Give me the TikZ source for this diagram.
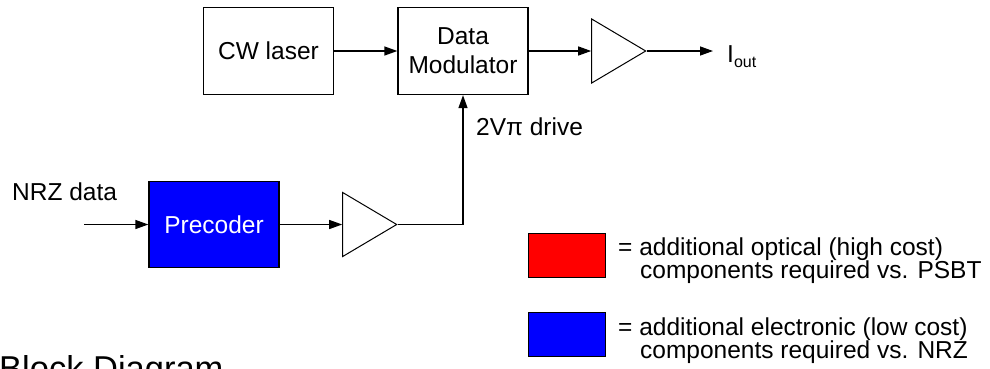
\documentclass[tikz,border=0pt]{standalone}
\usepackage{fontspec}
\setmainfont{Liberation Sans}
\usetikzlibrary{shapes.geometric,arrows.meta}

\begin{document}
\begin{tikzpicture}[x=1pt,y=-1pt,
  block/.style={draw,line width=1.3pt,minimum width=130pt,minimum height=87pt,inner sep=0pt,align=center,font=\fontsize{24.5}{29}\selectfont},
  amp/.style={draw,line width=1pt,isosceles triangle,isosceles triangle stretches,minimum width=64pt,minimum height=54pt,inner sep=0pt,anchor=apex},
  sig/.style={line width=1.3pt,-{Triangle[length=13pt,width=9pt]}},
  lbl/.style={font=\fontsize{24.5}{29}\selectfont,inner sep=0pt,anchor=base west},
  key/.style={draw,line width=1pt,minimum width=77pt,minimum height=44pt,inner sep=0pt}]

\clip (0,0) rectangle (990,368);

% optical path
\node[block] (laser) at (268.5,51) {CW laser};
\node[block] (mod) at (463,51) {Data\\Modulator};
\node[amp] (amp1) at (647,51) {};
\coordinate (out) at (713,51);

\draw[sig] (laser.east) -- (mod.west);
\draw[sig] (mod.east) -- (amp1.west);
\draw[sig] (amp1.apex) -- (out);
\node[lbl] (iout) at (727,62) {I\raisebox{-5pt}{\fontsize{16}{16}\selectfont out}};

% electrical drive
\coordinate (nrz) at (84,224.5);
\node[block,fill=blue,text=white,minimum height=86pt] (pre) at (214,224.5) {Precoder};
\node[amp] (amp2) at (398,224.5) {};

\draw[sig] (nrz) -- (pre.west);
\draw[sig] (pre.east) -- (amp2.west);
\draw[sig] (amp2.apex) -| (mod.south);
\node[lbl] (nrzlbl) at (12,200) {NRZ data};
\node[lbl] (drive) at (476,135) {2Vπ drive};

% legend
\node[key,fill=red] (keyopt) at (566.5,255) {};
\node[key,fill=blue] (keyel) at (566.5,334.5) {};
\node[lbl] (opt1) at (618,255) {= additional optical (high cost)};
\node[lbl] (opt2) at (640,278) {components required vs. PSBT};
\node[lbl] (el1) at (618,335) {= additional electronic (low cost)};
\node[lbl] (el2) at (640,358) {components required vs. NRZ};

\node[inner sep=0pt,anchor=base west,font=\fontsize{34.5}{40}\selectfont] (title) at (-1,380) {Block Diagram};

\end{tikzpicture}
\end{document}
